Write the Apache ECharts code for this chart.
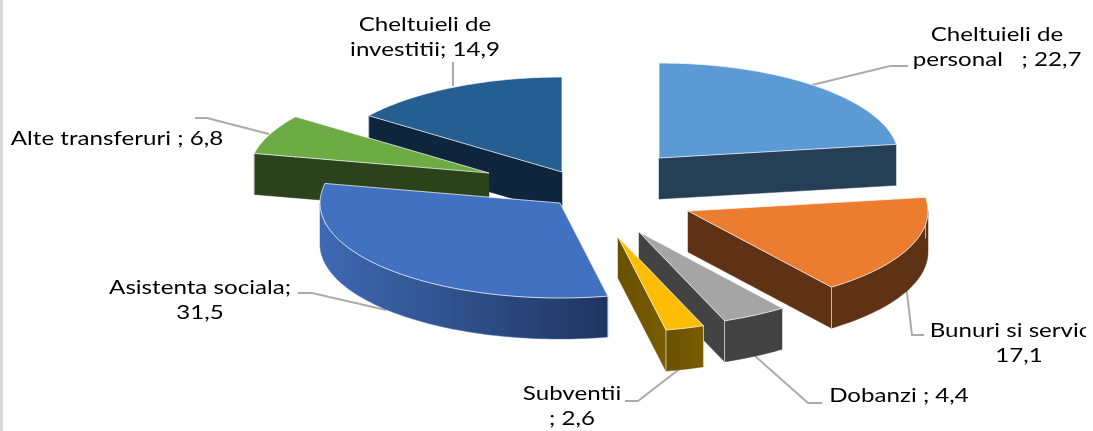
<!DOCTYPE html>
<html><head><meta charset="utf-8">
<style>html,body{margin:0;padding:0;background:#fff}#c{position:absolute;left:0;top:0;width:1086px;height:431px;overflow:hidden}</style>
<script src="https://cdn.jsdelivr.net/npm/echarts@6/dist/echarts.min.js"></script>
</head><body><div id="c"></div>
<script>
// Data, in pie order (clockwise from 12 o'clock)
const categories = ["Cheltuieli de personal", "Bunuri si servicii", "Dobanzi", "Subventii", "Asistenta sociala", "Alte transferuri", "Cheltuieli de investitii"];
const values = [22.7, 17.1, 4.4, 2.6, 31.5, 6.8, 14.9];
const labelTexts = ["Cheltuieli de\npersonal   ; 22,7", "Bunuri si servicii;\n17,1", "Dobanzi ; 4,4", "Subventii\n; 2,6", "Asistenta sociala;\n31,5", "Alte transferuri ; 6,8", "Cheltuieli de\ninvestitii; 14,9"];

// Styles
const topColors = ["#5B9AD5", "#EC7C30", "#A5A5A5", "#FDBD04", "#4371C2", "#6DAB45", "#255E91"];
const wallLeft = ["#243F56", "#5F3215", "#434343", "#6A5000", "#3F69B3", "#2C421A", "#0E253C"];
const wallRight = ["#243F56", "#5F3215", "#434343", "#7A5D00", "#1F3560", "#2C421A", "#0E253C"];

// Layout: exploded position of each slice's tip, projection, painter's order
const tipX = [659, 688, 639, 618, 560, 489, 562];
const tipY = [158, 211, 232, 237, 203, 173, 172];
const radiusX = 240, radiusY = 95, depth = 41;
const drawOrder = [6, 5, 4, 0, 1, 2, 3];
const labelX = [997, 1019, 899, 572, 200, 117, 425];
const labelY = [35, 331, 396, 394, 288, 139, 25];
const lineHeight = 25;
const leaders = [
  [[812, 85], [890, 66], [908, 66]],
  [[906, 285], [912, 335], [924, 335]],
  [[755, 356], [808, 403], [822, 403]],
  [[682, 367], [638, 401], [625, 401]],
  [[386, 310], [312, 293], [298, 293]],
  [[269, 134], [207, 118], [195, 118]],
  [[453, 86], [453, 62]]
];
const fontFamily = 'Lato, sans-serif', fontSize = 19, textStretch = 1.27;

const total = values.reduce((a, b) => a + b, 0);
const startAngles = [];
values.reduce((acc, v, i) => { startAngles[i] = acc; return acc + v / total * 360; }, 0);
const rad = d => d * Math.PI / 180;

function renderSlice(params, api) {
  const i = api.value(0);
  const a0 = startAngles[i], a1 = a0 + api.value(1) / total * 360;
  const cx = tipX[i], cy = tipY[i];
  const pt = a => [cx + radiusX * Math.sin(rad(a)), cy - radiusY * Math.cos(rad(a))];
  const down = p => [p[0], p[1] + depth];
  const arc = (s, e) => { const o = [], n = Math.max(2, Math.ceil((e - s) / 1.5)); for (let k = 0; k <= n; k++) o.push(pt(s + (e - s) * k / n)); return o; };
  const children = [];
  const wallFill = { type: 'linear', x: 0, y: 0, x2: 1, y2: 0, colorStops: [{ offset: 0, color: wallLeft[i] }, { offset: 1, color: wallRight[i] }] };
  const wall = pts => children.push({ type: 'polygon', shape: { points: pts.concat(pts.slice().reverse().map(down)) }, style: { fill: wallFill, stroke: wallLeft[i], lineWidth: 0.5 } });
  const edge = p => children.push({ type: 'line', shape: { x1: p[0], y1: p[1], x2: p[0], y2: p[1] + depth }, style: { stroke: 'rgba(255,255,255,0.65)', lineWidth: 1 } });
  if (Math.sin(rad(a0)) < 0) wall([[cx, cy], pt(a0)]);
  if (Math.sin(rad(a1)) > 0) wall([[cx, cy], pt(a1)]);
  const s = Math.max(a0, 90), e = Math.min(a1, 270);
  if (e > s) wall(arc(s, e));
  edge(pt(a0)); edge(pt(a1));
  children.push({ type: 'polygon', shape: { points: [[cx, cy]].concat(arc(a0, a1)) }, style: { fill: topColors[i], stroke: 'rgba(255,255,255,0.7)', lineWidth: 1 } });
  return { type: 'group', children };
}

function renderLabel(params, api) {
  const i = api.value(0);
  const children = [{ type: 'polyline', shape: { points: leaders[i] }, style: { fill: 'none', stroke: '#ABABAB', lineWidth: 2 } }];
  labelTexts[i].split('\n').forEach((t, k) => children.push({
    type: 'text',
    x: labelX[i], y: labelY[i] + k * lineHeight, scaleX: textStretch,
    style: { text: t, x: 0, y: 0, align: 'center', verticalAlign: 'middle', fill: '#000', font: fontSize + 'px ' + fontFamily }
  }));
  return { type: 'group', children };
}

const chart = echarts.init(document.getElementById('c'), null, { renderer: 'canvas' });
chart.setOption({
  animation: false,
  backgroundColor: '#fff',
  graphic: [{ type: 'rect', shape: { x: 0, y: 0, width: 3, height: 431 }, style: { fill: '#D9D9D9' }, silent: true }],
  series: [
    { type: 'custom', coordinateSystem: 'none', renderItem: renderLabel, z: 1, silent: true,
      data: categories.map((c, i) => ({ name: c, value: [i, values[i]] })) },
    { type: 'custom', coordinateSystem: 'none', renderItem: renderSlice, z: 2, silent: true,
      data: drawOrder.map(i => ({ name: categories[i], value: [i, values[i]] })) }
  ]
});
</script></body></html>
